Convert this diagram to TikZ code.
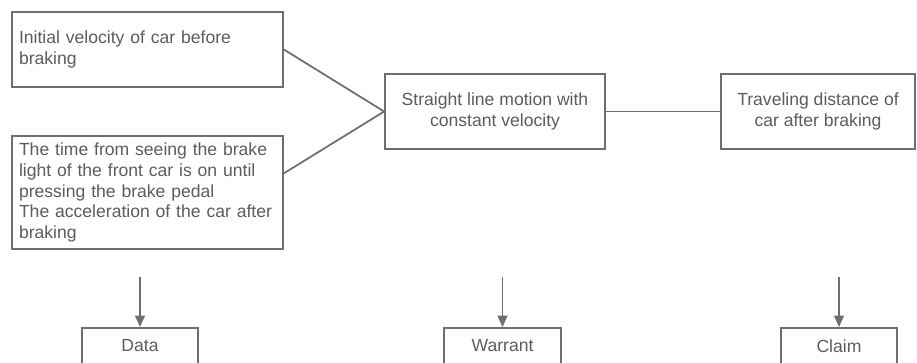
\documentclass[tikz,border=0pt]{standalone}
\usepackage{fontspec}
\usepackage{xcolor}
\usetikzlibrary{arrows.meta}
\setmainfont{Liberation Sans}

\definecolor{linegray}{HTML}{6E6E6E}
\definecolor{textgray}{HTML}{5C5C5C}

\begin{document}
\begin{tikzpicture}[>={Triangle[length=6.5pt,width=5.5pt]},
    box/.style={draw=linegray, line width=1pt, text=textgray, font=\fontsize{10}{11.8}\selectfont, inner ysep=0pt},
    leftbox/.style={box, align=left, text width=5.14cm, inner xsep=0.14cm},
    midbox/.style={box, align=center, minimum height=1.5cm},
    tagbox/.style={box, minimum width=2.33cm, minimum height=0.72cm},
    link/.style={draw=linegray, line width=1pt}]
      \useasboundingbox (0, 0) rectangle (18.34, 7.24);

      % data on the left
      \node[leftbox, minimum height=1.5cm] (v0) at (2.95, 6.25) {Initial velocity of car before\\braking};
      \node[leftbox, minimum height=2.26cm] (tb) at (2.95, 3.39) {The time from seeing the brake\\light of the front car is on until\\pressing the brake pedal\\The acceleration of the car after\\braking};

      \node[midbox, minimum width=4.4cm] (motion) at (9.9, 5.01) {Straight line motion with\\constant velocity};
      \node[midbox, minimum width=3.88cm] (dist) at (16.36, 5.01) {Traveling distance of\\car after braking};

      \draw[link] (v0.east) -- (motion.west);
      \draw[link] (tb.8) -- (motion.west);
      \draw[link] (motion.east) -- (dist.west);

      % labels at the bottom
      \node[tagbox] (data) at (2.8, 0.32) {Data};
      \node[tagbox] (warrant) at (10.05, 0.32) {Warrant};
      \node[tagbox] (claim) at (16.78, 0.32) {Claim};

      \coordinate (d0) at (2.8, 1.7);
      \coordinate (w0) at (10.05, 1.7);
      \coordinate (c0) at (16.78, 1.7);

      \draw[link, ->, linegray] (d0) -- (data);
      \draw[link, ->, linegray] (w0) -- (warrant);
      \draw[link, ->, linegray] (c0) -- (claim);
    \end{tikzpicture}
\end{document}
